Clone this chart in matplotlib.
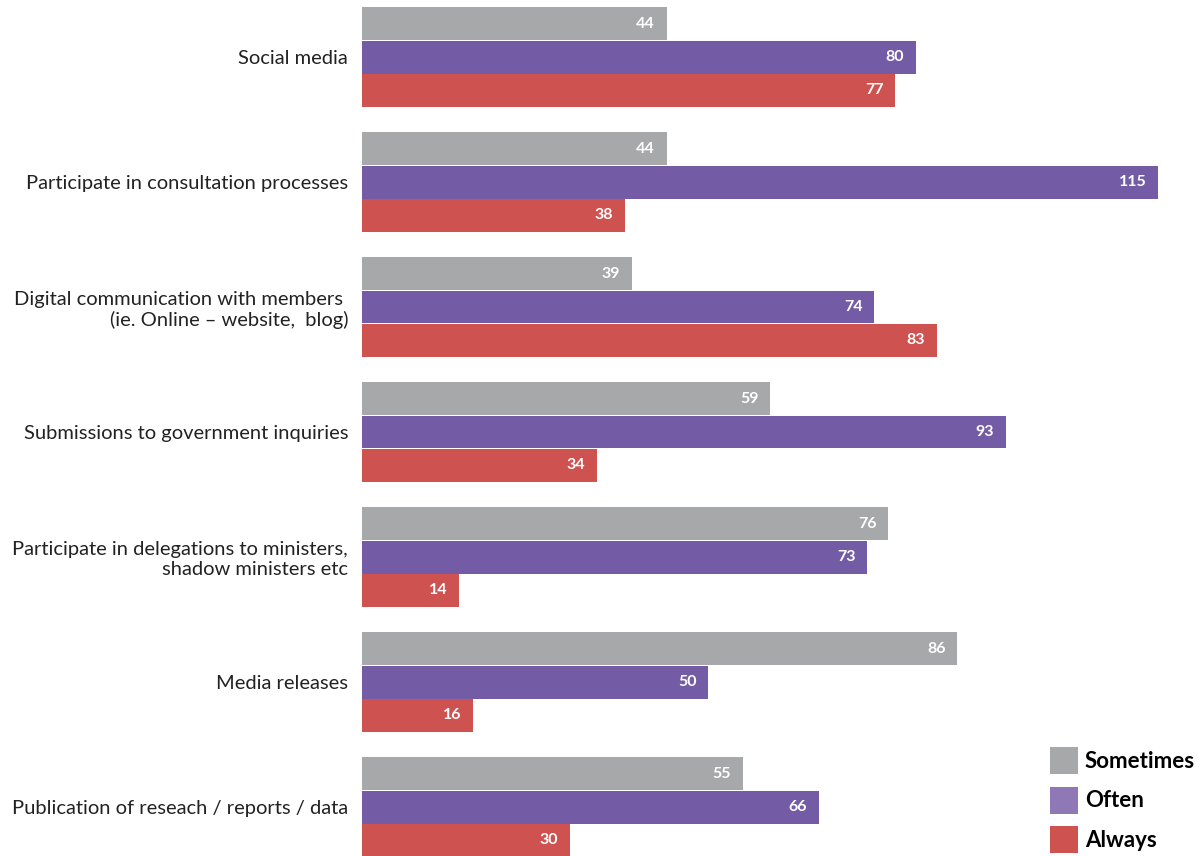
import matplotlib
matplotlib.use("Agg")
import matplotlib.pyplot as plt
from matplotlib.patches import Patch
import numpy as np

categories = [
    "Social media",
    "Participate in consultation processes",
    "Digital communication with members \n(ie. Online – website,  blog)",
    "Submissions to government inquiries",
    "Participate in delegations to ministers,\nshadow ministers etc",
    "Media releases",
    "Publication of reseach / reports / data",
]
sometimes = [44, 44, 39, 59, 76, 86, 55]
often = [80, 115, 74, 93, 73, 50, 66]
always = [77, 38, 83, 34, 14, 16, 30]

series = [("Sometimes", sometimes, "#A7A8AA", "#A7A8AA"),
          ("Often", often, "#735CA5", "#8E78B6"),
          ("Always", always, "#CD5250", "#CD5250")]

plt.rcParams["font.family"] = ["Lato", "DejaVu Sans"]

fig = plt.figure(figsize=(12.01, 8.56), dpi=100)
ax = fig.add_axes([362 / 1201, 0, 1 - 362 / 1201, 1])

h = 0.8 / 3
y = np.arange(len(categories))
for k, (name, vals, col, _) in enumerate(series):
    pos = y - 0.4 + h * (k + 0.5)
    bars = ax.barh(pos, vals, height=h * 0.99, color=col)
    for b, v in zip(bars, vals):
        ax.text(v - 1.7, b.get_y() + b.get_height() / 2, str(v),
                ha="right", va="center", color="white",
                fontsize=11.5, fontweight="bold")

ax.set_xlim(0, 121.2)
ax.set_ylim(6.392, -0.456)
ax.set_yticks(y)
ax.set_yticklabels(categories, fontsize=14.5, color="#222222")
ax.tick_params(axis="y", length=0, pad=10)
ax.set_xticks([])
for s in ax.spines.values():
    s.set_visible(False)

handles = [Patch(facecolor=lc, label=name) for name, _, _, lc in series]
leg = fig.legend(handles=handles, loc="lower right",
                 bbox_to_anchor=(1195 / 1201, 3 / 856),
                 bbox_transform=fig.transFigure,
                 frameon=False, prop={"size": 16, "weight": "bold"},
                 handlelength=1.25, handleheight=1.5, labelspacing=0.55,
                 handletextpad=0.3, borderaxespad=0, borderpad=0)

fig.savefig("out.png", dpi=100)
